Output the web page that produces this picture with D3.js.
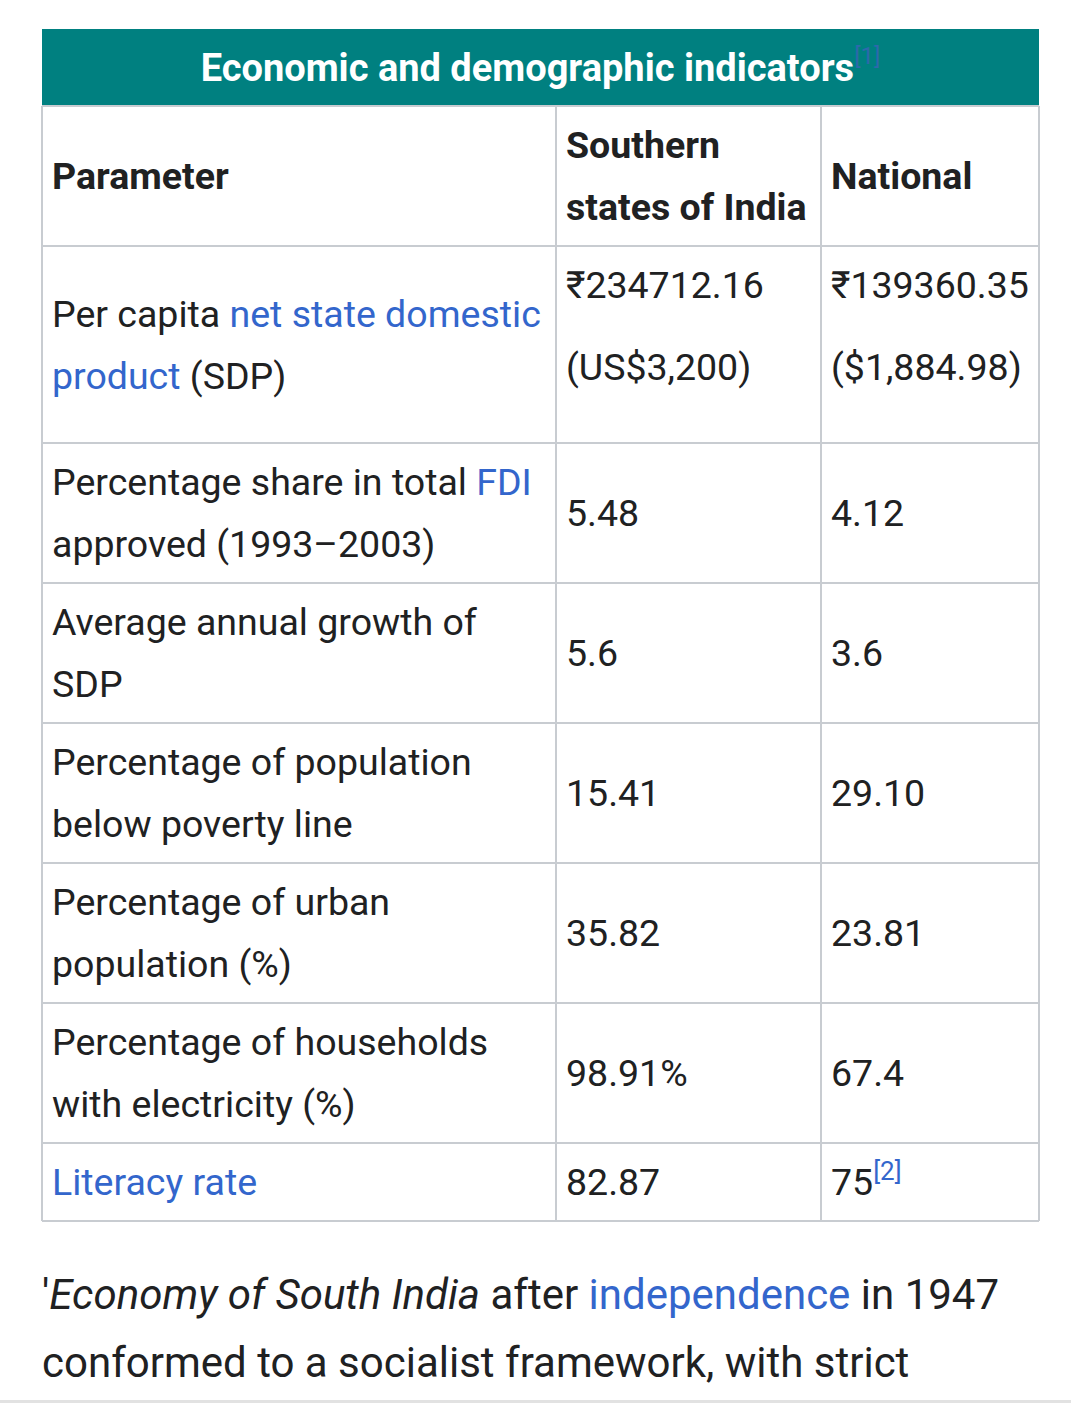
<!DOCTYPE html>
<html><head><meta charset="utf-8">
<script src="https://cdn.jsdelivr.net/npm/d3@7/dist/d3.min.js"></script>
<style>
html,body{margin:0;padding:0;background:#fff;}
svg{display:block;}
text{font-family:Roboto,"Noto Sans","DejaVu Sans",sans-serif;}
</style></head>
<body>
<svg id="chart" width="1071" height="1403"></svg>
<script>
// ---------- data ----------
const title = "Economic and demographic indicators";
const titleRef = "[1]";
const headers = [["Parameter"], ["Southern", "states of India"], ["National"]];
// parameter label lines, segments: [text, isLink]
const parameters = [
  [[["Per capita ", 0], ["net state domestic", 1]], [["product", 1], [" (SDP)", 0]]],
  [[["Percentage share in total ", 0], ["FDI", 1]], [["approved (1993\u20132003)", 0]]],
  [[["Average annual growth of", 0]], [["SDP", 0]]],
  [[["Percentage of population", 0]], [["below poverty line", 0]]],
  [[["Percentage of urban", 0]], [["population (%)", 0]]],
  [[["Percentage of households", 0]], [["with electricity (%)", 0]]],
  [[["Literacy rate", 1]]]
];
const southern = [["\u20b9234712.16", "(US$3,200)"], ["5.48"], ["5.6"], ["15.41"], ["35.82"], ["98.91%"], ["82.87"]];
const national = [["\u20b9139360.35", "($1,884.98)"], ["4.12"], ["3.6"], ["29.10"], ["23.81"], ["67.4"], ["75"]];
const nationalRefs = ["", "", "", "", "", "", "[2]"];
const paragraph = [
  [["'", "n"], ["Economy of South India", "i"], [" after ", "n"], ["independence", "l"], [" in 1947", "n"]],
  [["conformed to a socialist framework, with strict", "n"]]
];

// ---------- layout ----------
const W = 1071, H = 1403;
const tLeft = 42, tRight = 1039, tTop = 29;
const colEdges = [42, 556, 821, 1039];
const titleH = 77, headerH = 140;
const rowH = [197, 140, 140, 140, 140, 140, 78];
const lh = 62, fs = 37.5, pad = 10, base = 13;
const ink = "#202122", linkC = "#3366cc", teal = "#008080", grid = "#c8ccd1";

const svg = d3.select("#chart");
const x = d3.scaleOrdinal().domain([0, 1, 2]).range(colEdges.slice(0, 3));

// row boundaries
const bounds = [tTop, tTop + titleH, tTop + titleH + headerH];
const cum = d3.cumsum(rowH);
cum.forEach(c => bounds.push(tTop + titleH + headerH + c));
const rowTop = i => bounds[i + 2];
const yCenter = i => rowTop(i) + rowH[i] / 2;

// title bar
svg.append("rect").attr("x", tLeft).attr("y", tTop).attr("width", tRight - tLeft).attr("height", titleH).attr("fill", teal);
const tt = svg.append("text").attr("x", (tLeft + tRight) / 2).attr("y", tTop + titleH / 2 + 13)
  .attr("text-anchor", "middle").attr("font-size", 38).attr("font-weight", 700).attr("fill", "#fff");
tt.append("tspan").text(title);
tt.append("tspan").attr("dy", -17).attr("font-size", 24).attr("font-weight", 400).attr("fill", "#3a63b8").attr("fill-opacity", 0.8).text(titleRef);

// grid lines
const g = svg.append("g").attr("stroke", grid).attr("stroke-width", 2);
bounds.slice(1).forEach(b => g.append("line").attr("x1", tLeft).attr("x2", tRight).attr("y1", b).attr("y2", b));
[tLeft, tRight].forEach(c => g.append("line").attr("x1", c).attr("x2", c).attr("y1", bounds[1]).attr("y2", bounds[bounds.length - 1]));
colEdges.slice(1, 3).forEach(c => g.append("line").attr("x1", c).attr("x2", c).attr("y1", bounds[1]).attr("y2", bounds[bounds.length - 1]));

// headers
headers.forEach((lines, j) => {
  const cy = bounds[1] + headerH / 2;
  lines.forEach((ln, k) => {
    svg.append("text").attr("x", x(j) + pad).attr("y", cy + (k - (lines.length - 1) / 2) * lh + base)
      .attr("font-size", fs).attr("font-weight", 700).attr("fill", ink).text(ln);
  });
});

// parameter column
parameters.forEach((lines, i) => {
  lines.forEach((segs, k) => {
    const t = svg.append("text").attr("x", x(0) + pad)
      .attr("y", yCenter(i) + (k - (lines.length - 1) / 2) * lh + base)
      .attr("font-size", fs).attr("fill", ink);
    segs.forEach(([s, isLink]) => t.append("tspan").attr("fill", isLink ? linkC : ink).text(s));
  });
});

// value columns
function drawValues(vals, j, refs) {
  vals.forEach((lines, i) => {
    const gap = lines.length > 1 ? 82 : lh;
    const first = lines.length > 1 ? rowTop(i) + 39 : yCenter(i);
    lines.forEach((ln, k) => {
      const t = svg.append("text").attr("x", x(j) + pad).attr("y", first + k * gap + base)
        .attr("font-size", fs).attr("fill", ink);
      t.append("tspan").text(ln);
      if (refs && refs[i] && k === lines.length - 1) {
        t.append("tspan").attr("dy", -15).attr("font-size", 26).attr("fill", linkC).text(refs[i]);
      }
    });
  });
}
drawValues(southern, 1);
drawValues(national, 2, nationalRefs);

// paragraph
paragraph.forEach((segs, k) => {
  const t = svg.append("text").attr("x", tLeft).attr("y", 1309 + k * 68).attr("font-size", 42).attr("fill", ink);
  segs.forEach(([s, st]) => {
    const sp = t.append("tspan").text(s).attr("fill", st === "l" ? linkC : ink);
    if (st === "i") sp.attr("font-style", "italic");
  });
});

// bottom bar
svg.append("rect").attr("x", 0).attr("y", 1400).attr("width", W).attr("height", 3).attr("fill", "#e2e2e2");
</script>
</body></html>
